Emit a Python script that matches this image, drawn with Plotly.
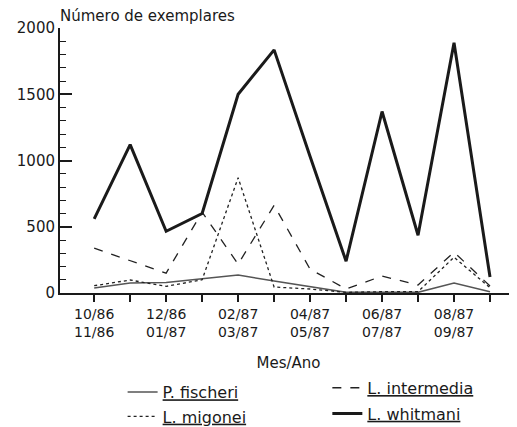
import plotly.graph_objects as go

months = ["10/86", "11/86", "12/86", "01/87", "02/87", "03/87",
          "04/87", "05/87", "06/87", "07/87", "08/87", "09/87"]
tick_text = ["10/86<br>11/86", "", "12/86<br>01/87", "", "02/87<br>03/87", "",
             "04/87<br>05/87", "", "06/87<br>07/87", "", "08/87<br>09/87", ""]

p_fischeri = [38, 75, 80, 105, 135, 90, 45, 5, 5, 5, 75, 10]
l_intermedia = [338, 244, 150, 610, 218, 662, 180, 30, 128, 60, 308, 53]
l_migonei = [55, 98, 50, 100, 870, 45, 30, 5, 10, 10, 270, 40]
l_whitmani = [560, 1120, 466, 600, 1500, 1835, 1030, 240, 1370, 436, 1888, 120]

FONT = "DejaVu Sans"
INK = "#1a1a1a"
x = list(range(len(months)))

fig = go.Figure()
fig.add_trace(go.Scatter(x=x, y=p_fischeri, name="P. fischeri", mode="lines",
                         line=dict(color="#555555", width=1.5), cliponaxis=False,
                         legend="legend"))
fig.add_trace(go.Scatter(x=x, y=l_intermedia, name="L. intermedia", mode="lines",
                         line=dict(color="#222222", width=1.3, dash="dash"), cliponaxis=False,
                         legend="legend2"))
fig.add_trace(go.Scatter(x=x, y=l_migonei, name="L. migonei", mode="lines",
                         line=dict(color="#222222", width=1.3, dash="dot"), cliponaxis=False,
                         legend="legend3"))
fig.add_trace(go.Scatter(x=x, y=l_whitmani, name="L. whitmani", mode="lines",
                         line=dict(color=INK, width=3), cliponaxis=False,
                         legend="legend4"))

legfont = dict(family=FONT, size=16, color=INK, lineposition="under")


def leg(xp, yp):
    return dict(x=xp, y=yp, xanchor="left", yanchor="middle", font=legfont,
                bgcolor="rgba(0,0,0,0)", borderwidth=0)


fig.update_layout(
    width=509, height=419,
    margin=dict(l=52, r=0, t=20, b=134, autoexpand=False),
    paper_bgcolor="white", plot_bgcolor="white",
    font=dict(family=FONT, size=15, color=INK),
    showlegend=True,
    legend=leg(0.137, -0.374),
    legend2=leg(0.585, -0.358),
    legend3=leg(0.137, -0.466),
    legend4=leg(0.585, -0.455),
    xaxis=dict(range=[-0.95, 11.75], tickvals=x, ticktext=tick_text,
               ticks="outside", ticklen=7, tickwidth=1.5, tickcolor=INK,
               showline=True, linecolor=INK, linewidth=2,
               showgrid=False, zeroline=False,
               tickfont=dict(family=FONT, size=14),
               title=dict(text="Mes/Ano", font=dict(family=FONT, size=15), standoff=18)),
    yaxis=dict(range=[0, 2000], tickvals=[0, 500, 1000, 1500, 2000],
               ticks="inside", ticklen=12, tickwidth=1.5, tickcolor=INK,
               showline=True, linecolor=INK, linewidth=2,
               showgrid=False, zeroline=False,
               tickfont=dict(family=FONT, size=15),
               minor=dict(dtick=100, ticks="inside", ticklen=6, tickwidth=1.2,
                          tickcolor=INK, showgrid=False)),
    annotations=[dict(text="Número de exemplares", xref="paper", yref="paper",
                      x=-0.005, y=1, xanchor="left", yanchor="bottom", yshift=1,
                      showarrow=False, font=dict(family=FONT, size=15))],
)

fig.write_html("out.html")
